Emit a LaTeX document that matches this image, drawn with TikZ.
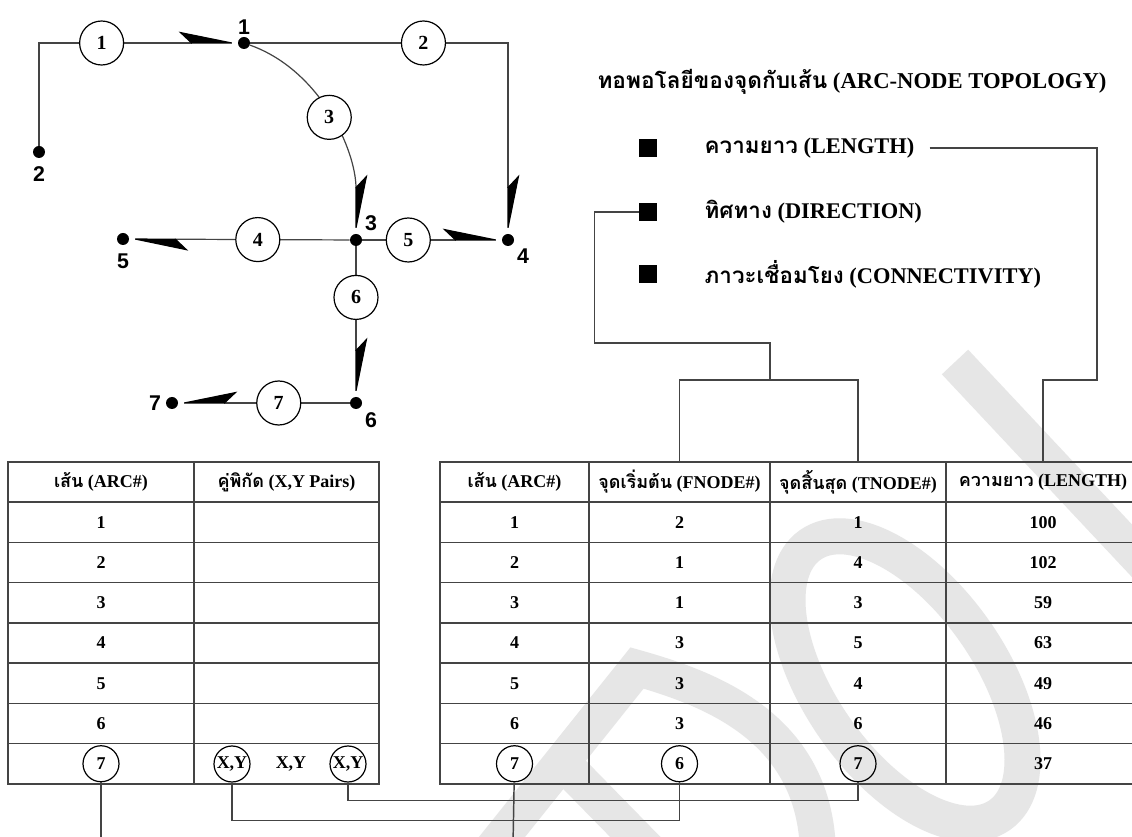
\documentclass[tikz,border=0pt]{standalone}
\usepackage{fontspec}
\setmainfont{Liberation Serif}
\setsansfont{Liberation Sans}
\newfontfamily\thaifont[Script=Thai]{Loma}
\usepackage{tikz}
\usetikzlibrary{arrows.meta, positioning, calc}
\usepackage{xcolor}
\definecolor{lineGray}{HTML}{444444}
\definecolor{markGray}{HTML}{E6E6E6}
\newcommand{\thtxt}[1]{{\thaifont #1}}
\tikzset{
  vertex/.style = {circle, fill=black, inner sep=0pt, minimum size=9pt},
  vlabel/.style = {font=\sffamily\bfseries\fontsize{16}{16}\selectfont},
  arcno/.style  = {circle, draw=black, fill=white, line width=0.9pt,
                   inner sep=0pt, minimum size=33pt,
                   font=\bfseries\fontsize{15}{15}\selectfont},
  edge/.style   = {draw=lineGray, line width=0.9pt},
  barb/.style   = {-{Stealth[harpoon, length=42pt, width=17pt, inset=9pt, color=black]}},
  barbswap/.style = {-{Stealth[harpoon, swap, length=42pt, width=17pt, inset=9pt, color=black]}},
  cell/.style   = {draw=lineGray, line width=1.1pt, inner sep=0pt,
                   minimum height=30.19pt,
                   font=\bfseries\fontsize{13.5}{13.5}\selectfont},
  tcirc/.style  = {circle, draw=black, line width=0.9pt, inner sep=0pt,
                   minimum size=27pt, font=\bfseries\fontsize{13.5}{13.5}\selectfont},
  bullet/.style = {fill=black, inner sep=0pt, minimum size=13.5pt},
  item/.style   = {anchor=west, font=\bfseries\fontsize{16.8}{16.8}\selectfont},
  link/.style   = {draw=lineGray, line width=1.1pt},
  wmark/.style  = {draw=markGray, line width=27pt},
}

\begin{document}
\begin{tikzpicture}[x=0.75pt, y=-0.75pt]

\path[use as bounding box, fill=white] (0,0) rectangle (1132,837);

% watermark
\draw[wmark] (490,852) -- (637,668) .. controls (715,690) and (815,730) .. (818,852);
\draw[wmark] (562,762) -- (650,852);
\draw[wmark, shift={(905,680)}, rotate=-55] (0,0) ellipse [x radius=165, y radius=85];
\draw[wmark] (955,362) -- (1150,570);

% arc-node network
\node[vertex, label={[vlabel, label distance=-2pt]above:1}] (v1) at (244,43)  {};
\node[vertex, label={[vlabel, label distance=3pt]below:2}]  (v2) at (39,152)  {};
\node[vertex, label={[vlabel]above right:3}]                (v3) at (356,240) {};
\node[vertex, label={[vlabel]below right:4}]                (v4) at (508,240) {};
\node[vertex, label={[vlabel, label distance=3pt]below:5}]  (v5) at (123,239) {};
\node[vertex, label={[vlabel]below right:6}]                (v6) at (356,403) {};
\node[vertex, label={[vlabel]left:7}]                       (v7) at (172,403) {};

\draw[edge, barb] (v2) |- node[arcno, pos=0.6575] (a1) {1} (v1);
\draw[edge, barb] (v1) -| node[arcno, pos=0.336] (a2) {2} (v4);
\draw[edge, barb] (v1) .. controls (320,70) and (356,150) .. node[arcno, pos=0.5] (a3) {3} (v3);
\draw[edge, barb] (v3) -- node[arcno, pos=0.417] (a4) {4} (v5);
\draw[edge, barb] (v3) -- node[arcno, pos=0.33] (a5) {5} (v4);
\draw[edge, barb] (v3) -- node[arcno, pos=0.34] (a6) {6} (v6);
\draw[edge, barbswap] (v6) -- node[arcno, pos=0.414] (a7) {7} (v7);

% legend
\node[font=\bfseries\fontsize{17}{17}\selectfont] (title) at (852,82)
  {\thtxt{ทอพอโลยีของจุดกับเส้น} (ARC-NODE TOPOLOGY)};
\node[bullet] (sq1) at (648,148) {};
\node[bullet] (sq2) at (648,212) {};
\node[bullet] (sq3) at (648,274) {};
\node[item] (lenlbl) at (700,148) {\thtxt{ความยาว} (LENGTH)};
\node[item] (dirlbl) at (700,212) {\thtxt{ทิศทาง} (DIRECTION)};
\node[item] (conlbl) at (700,274) {\thtxt{ภาวะเชื่อมโยง} (CONNECTIVITY)};

% arc table
\node[cell, minimum width=139.5pt]  (ta0) at (101,482)   {\thtxt{เส้น} (ARC\#)};
\node[cell, minimum width=138.75pt] (tb0) at (286.5,482) {\thtxt{คู่พิกัด} (X,Y Pairs)};
\foreach \r in {1,...,7} {
  \node[cell, minimum width=139.5pt]  (ta\r) at (101,{482+40.25*\r})   {\ifnum\r<7 \r\fi};
  \node[cell, minimum width=138.75pt] (tb\r) at (286.5,{482+40.25*\r}) {};
}
\node[tcirc] (ta7c) at (ta7) {7};
\node[tcirc] (xy1) at (232,764) {X,Y};
\node[font=\bfseries\fontsize{13.5}{13.5}\selectfont] (xy0) at (291,764) {X,Y};
\node[tcirc] (xy2) at (348,764) {X,Y};

% topology table
\node[cell, minimum width=111.75pt] (ua0) at (514.5,482) {\thtxt{เส้น} (ARC\#)};
\node[cell, minimum width=135.75pt] (ub0) at (679.5,482) {\thtxt{จุดเริ่มต้น} (FNODE\#)};
\node[cell, minimum width=132pt]    (uc0) at (858,482)   {\thtxt{จุดสิ้นสุด} (TNODE\#)};
\node[cell, minimum width=145.5pt]  (ud0) at (1043,482)  {\thtxt{ความยาว} (LENGTH)};
\foreach \r/\f/\t/\l in {1/2/1/100, 2/1/4/102, 3/1/3/59, 4/3/5/63, 5/3/4/49, 6/3/6/46, 7/6/7/37} {
  \node[cell, minimum width=111.75pt] (ua\r) at (514.5,{482+40.25*\r}) {\ifnum\r<7 \r\fi};
  \node[cell, minimum width=135.75pt] (ub\r) at (679.5,{482+40.25*\r}) {\ifnum\r<7 \f\fi};
  \node[cell, minimum width=132pt]    (uc\r) at (858,{482+40.25*\r})   {\ifnum\r<7 \t\fi};
  \node[cell, minimum width=145.5pt]  (ud\r) at (1043,{482+40.25*\r})  {\l};
}
\node[tcirc] (ua7c) at (ua7) {7};
\node[tcirc] (ub7c) at (ub7) {6};
\node[tcirc] (uc7c) at (uc7) {7};

% links
\coordinate (dirbend) at (770,343);
\coordinate (brk)     at (770,380);
\coordinate (lenbend) at (1097,380);
\coordinate (tail1)   at (101,845);
\coordinate (tail2)   at (513,845);
\draw[link] (sq2.west) -- ++(-44,0) |- (dirbend) -- (brk);
\draw[link] (ub0.north) |- (brk) -| (uc0.north);
\draw[link] ([xshift=8pt]lenlbl.east) -| (lenbend) -| (ud0.north);
\draw[link] (ta7c) -- (tail1);
\draw[link] (ua7c) -- (tail2);
\draw[link] (xy1.south) -- ++(0,38) -| (ub7c.south);
\draw[link] (xy2.south) -- ++(0,18) -| (uc7c.south);

\end{tikzpicture}
\end{document}
